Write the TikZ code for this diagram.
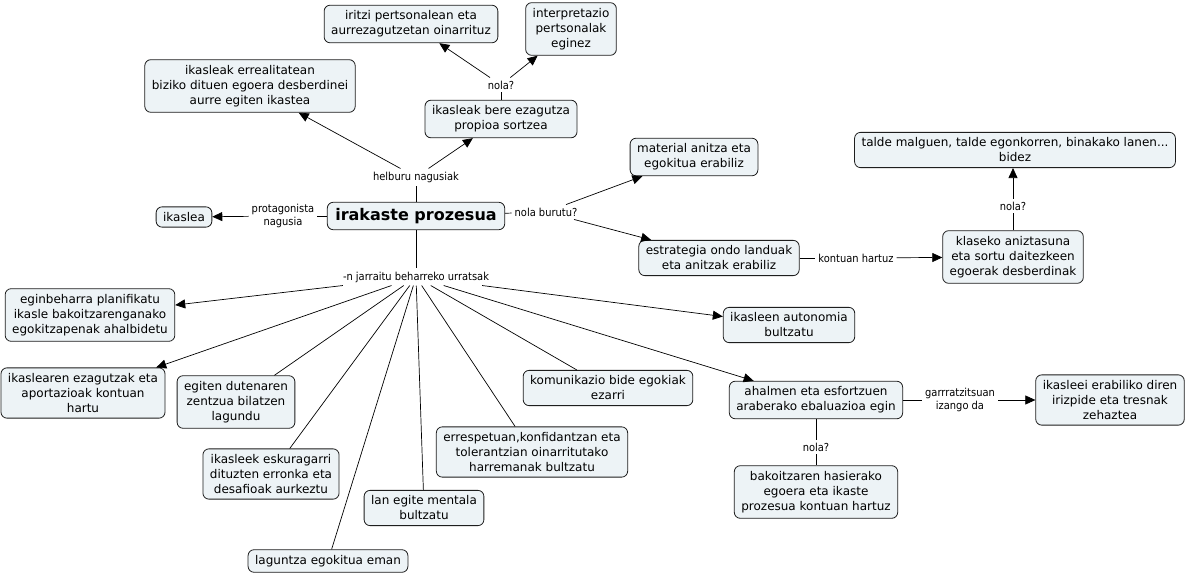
\documentclass[tikz,border=0pt]{standalone}
\usepackage{fontspec}
\setmainfont{DejaVu Sans}
\newfontfamily\condfont{DejaVu Sans Condensed}
\usetikzlibrary{arrows.meta}
\definecolor{boxfill}{RGB}{237,243,246}
\definecolor{boxline}{RGB}{30,30,30}
\tikzset{
  box/.style={draw=boxline, line width=0.8pt, rounded corners=6pt, fill=boxfill, align=center,
    font=\fontsize{12}{15}\selectfont, inner xsep=7pt, inner ysep=5.5pt},
  rootbox/.style={box, font=\fontsize{16}{19}\selectfont\bfseries, inner ysep=6pt, inner xsep=8pt},
  lbl/.style={font=\condfont\fontsize{11}{13}\selectfont, inner sep=3pt, align=center},
  arr/.style={line width=0.7pt, -{Triangle[length=10pt,width=9pt]}},
  ln/.style={line width=0.7pt},
}
\begin{document}
\begin{tikzpicture}[x=1pt,y=-1pt]
\useasboundingbox[fill=white] (0,0) rectangle (1188,577);
% nodes
\node[box] (A) at (411,24) {iritzi pertsonalean eta\\aurrezagutzetan oinarrituz};
\node[box] (B) at (571,29) {interpretazio\\pertsonalak\\eginez};
\node[box] (C) at (250,86) {ikasleak errealitatean\\biziko dituen egoera desberdinei\\aurre egiten ikastea};
\node[box] (D) at (501,119) {ikasleak bere ezagutza\\propioa sortzea};
\node[lbl] (n1) at (501,85) {nola?};
\node[lbl] (hl) at (416,177) {helburu nagusiak};
\node[rootbox] (root) at (416,216) {irakaste prozesua};
\node[box] (ik) at (184,217) {ikaslea};
\node[lbl] (pl) at (283,216) {protagonista\\nagusia};
\node[lbl] (nb) at (546,212) {nola burutu?};
\node[box] (mat) at (694,157) {material anitza eta\\egokitua erabiliz};
\node[box] (est) at (719,258) {estrategia ondo landuak\\eta anitzak erabiliz};
\node[lbl] (kh) at (856,258) {kontuan hartuz};
\node[box] (kla) at (1013,257) {klaseko aniztasuna\\eta sortu daitezkeen\\egoerak desberdinak};
\node[lbl] (n2) at (1013,206) {nola?};
\node[box] (tal) at (1015,150) {talde malguen, talde egonkorren, binakako lanen...\\bidez};
\node[lbl] (ur) at (416,277) {-n jarraitu beharreko urratsak};
\node[box] (eg) at (90,315) {eginbeharra planifikatu\\ikasle bakoitzarenganako\\egokitzapenak ahalbidetu};
\node[box] (ikl) at (83,393) {ikaslearen ezagutzak eta\\aportazioak kontuan\\hartu};
\node[box] (egi) at (236,402) {egiten dutenaren\\zentzua bilatzen\\lagundu};
\node[box] (ikk) at (271,474) {ikasleek eskuragarri\\dituzten erronka eta\\desafioak aurkeztu};
\node[box] (lag) at (328,561) {laguntza egokitua eman};
\node[box] (lan) at (424,508) {lan egite mentala\\bultzatu};
\node[box] (err) at (532,452) {errespetuan,konfidantzan eta\\tolerantzian oinarritutako\\harremanak bultzatu};
\node[box] (kom) at (608,388) {komunikazio bide egokiak\\ezarri};
\node[box] (aut) at (789,325) {ikasleen autonomia\\bultzatu};
\node[box] (ahal) at (816,400) {ahalmen eta esfortzuen\\araberako ebaluazioa egin};
\node[lbl] (ga) at (960,400) {garrratzitsuan\\izango da};
\node[box] (ikei) at (1110,400) {ikasleei erabiliko diren\\irizpide eta tresnak\\zehaztea};
\node[lbl] (n3) at (816,447) {nola?};
\node[box] (bak) at (816,492) {bakoitzaren hasierako\\egoera eta ikaste\\prozesua kontuan hartuz};
% connectors
\draw[ln] (root) -- (hl);
\draw[arr] (hl) -- (C);
\draw[arr] (hl) -- (D);
\draw[ln] (D) -- (n1);
\draw[arr] (n1) -- (A);
\draw[arr] (n1) -- (B);
\draw[ln] (root) -- (pl);
\draw[arr] (pl) -- (ik);
\draw[ln] (root) -- (nb);
\draw[arr] (nb) -- (mat);
\draw[arr] (nb) -- (est);
\draw[ln] (est) -- (kh);
\draw[arr] (kh) -- (kla);
\draw[ln] (kla) -- (n2);
\draw[arr] (n2) -- (tal.south -| n2);
\draw[ln] (root) -- (ur);
\draw[arr] (ur) -- (eg);
\draw[arr] (ur) -- (ikl);
\draw[ln] (ur) -- (egi);
\draw[ln] (ur) -- (ikk);
\draw[ln] (ur) -- (lag);
\draw[ln] (ur) -- (lan);
\draw[ln] (ur) -- (err);
\draw[ln] (ur) -- (kom);
\draw[arr] (ur) -- (aut);
\draw[arr] (ur) -- (ahal);
\draw[ln] (ahal) -- (ga);
\draw[arr] (ga) -- (ikei);
\draw[ln] (ahal) -- (n3);
\draw[ln] (n3) -- (bak);
\end{tikzpicture}
\end{document}
